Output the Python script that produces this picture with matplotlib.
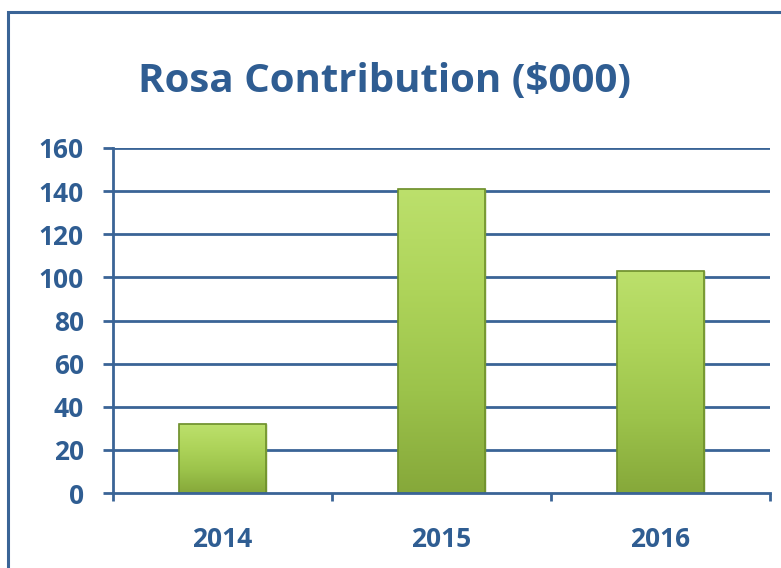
import matplotlib
matplotlib.use("Agg")
import matplotlib.pyplot as plt
import matplotlib.patches as mpatches
import numpy as np

years = ['2014', '2015', '2016']
values = [32, 141, 103]
yticks = [0, 20, 40, 60, 80, 100, 120, 140, 160]

blue = '#2F5D92'
line_blue = '#3A6496'

plt.rcParams['font.family'] = ['Open Sans', 'DejaVu Sans']

fig = plt.figure(figsize=(7.81, 5.68), dpi=100)
fig.patch.set_facecolor('white')

# outer frame (cut at right/bottom like the screenshot)
frame = mpatches.Rectangle((8/781, -0.2), 1.2, 1.2 - 12/568 + 0.0,
                           transform=fig.transFigure, fill=False,
                           edgecolor=line_blue, linewidth=2.2, clip_on=False)
fig.patches.append(frame)

ax = fig.add_axes([113/781, 1 - 493/568, (770 - 113)/781, (493 - 148)/568])
x = np.arange(len(years))
bars = ax.bar(x, values, width=0.4, color='#9CC34B', edgecolor='#6E8F2C',
              linewidth=1.0, zorder=3)

# vertical gradient inside each bar
grad = np.linspace(0, 1, 256).reshape(-1, 1)
cmap = matplotlib.colors.LinearSegmentedColormap.from_list(
    'g', ['#86A83A', '#9CC34B', '#AED45A', '#BCE06C'])
for b in bars:
    x0, y0 = b.get_x(), b.get_y()
    w, h = b.get_width(), b.get_height()
    im = ax.imshow(grad, extent=[x0, x0 + w, y0, y0 + h], origin='lower',
                   cmap=cmap, aspect='auto', zorder=3.5)
    im.set_clip_path(b)
    ax.add_patch(mpatches.Rectangle((x0, y0), w, h, fill=False,
                                    edgecolor='#6E8F2C', linewidth=1.2, zorder=4))

ax.set_xlim(-0.5, 2.5)
ax.set_ylim(0, 160)
ax.set_yticks(yticks)
ax.set_yticklabels([str(v) for v in yticks])
for v in yticks[1:]:
    ax.axhline(v, color=line_blue, linewidth=2.0, zorder=1)

ax.set_xticks(x)
ax.set_xticklabels(years)
ax.set_xticks([-0.5, 0.5, 1.5, 2.5], minor=True)
ax.tick_params(axis='x', which='major', length=0, pad=24, labelsize=19,
               labelcolor=blue)
ax.tick_params(axis='x', which='minor', length=6, width=2, color=line_blue,
               direction='out')
ax.tick_params(axis='y', length=7, width=2, color=line_blue, pad=14,
               labelsize=19, labelcolor=blue)
for lab in ax.get_xticklabels() + ax.get_yticklabels():
    lab.set_fontweight('bold')

for s in ['top', 'right']:
    ax.spines[s].set_visible(False)
for s in ['left', 'bottom']:
    ax.spines[s].set_color(line_blue)
    ax.spines[s].set_linewidth(2.0)
    ax.spines[s].set_zorder(5)

fig.text(385/781, 1 - 82/568, 'Rosa Contribution ($000)', ha='center',
         va='center', fontsize=29, fontweight='bold', color=blue)

fig.savefig('out.png', dpi=100)
